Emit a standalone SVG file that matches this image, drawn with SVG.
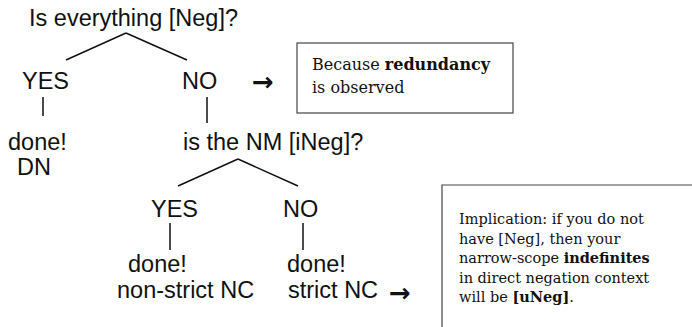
<svg xmlns="http://www.w3.org/2000/svg" width="692" height="327" viewBox="0 0 692 327">
<style>
.t{font-family:"Liberation Sans",Arial,sans-serif;font-size:23.5px;fill:#111}
.a{font-family:"DejaVu Sans",sans-serif;font-size:26px;fill:#111;font-weight:bold}
.s{font-family:"DejaVu Serif",serif;font-size:16px;fill:#111}
.s2{font-family:"DejaVu Serif",serif;font-size:14.5px;fill:#111}
.b{font-weight:bold}
.ln{stroke:#111;stroke-width:1.5;fill:none}
.box{stroke:#444;stroke-width:1.2;fill:none}
</style>
<rect width="692" height="327" fill="#fff"/>
<g id="connectors">
<path class="ln" d="M126,33 L66,60 M126,33 L187,60"/>
<path class="ln" d="M43,97 V116 M207,97 V123"/>
<path class="ln" d="M238,159 L178,186 M238,159 L298,186"/>
<path class="ln" d="M170,223 V250 M303,223 V250"/>
</g>
<g id="q1"><text class="t" x="29" y="26">Is everything [Neg]?</text></g>
<g id="yes1"><text class="t" x="22" y="89">YES</text></g>
<g id="no1"><text class="t" x="182" y="89">NO</text></g>
<g id="arrow1"><text class="a" x="252" y="91">→</text></g>
<g id="done1"><text class="t" x="8" y="150">done!</text><text class="t" x="17" y="175">DN</text></g>
<g id="q2"><text class="t" x="183" y="150">is the NM [iNeg]?</text></g>
<g id="yes2"><text class="t" x="151" y="217">YES</text></g>
<g id="no2"><text class="t" x="283" y="217">NO</text></g>
<g id="done2"><text class="t" x="128" y="272">done!</text><text class="t" x="117" y="298">non-strict NC</text></g>
<g id="done3"><text class="t" x="287" y="272">done!</text><text class="t" x="288" y="298">strict NC</text></g>
<g id="arrow2"><text class="a" x="389" y="302">→</text></g>
<g id="box1">
<rect class="box" x="297" y="43" width="216" height="70"/>
<text class="s" x="312" y="70">Because <tspan class="b">redundancy</tspan></text>
<text class="s" x="312" y="93">is observed</text>
</g>
<g id="box2">
<path class="box" d="M442,330 V185 H695"/>
<text class="s2" x="459" y="224">Implication: if you do not</text>
<text class="s2" x="459" y="244">have [Neg], then your</text>
<text class="s2" x="459" y="263">narrow-scope <tspan class="b">indefinites</tspan></text>
<text class="s2" x="459" y="283">in direct negation context</text>
<text class="s2" x="459" y="302">will be <tspan class="b">[uNeg]</tspan>.</text>
</g>
</svg>
